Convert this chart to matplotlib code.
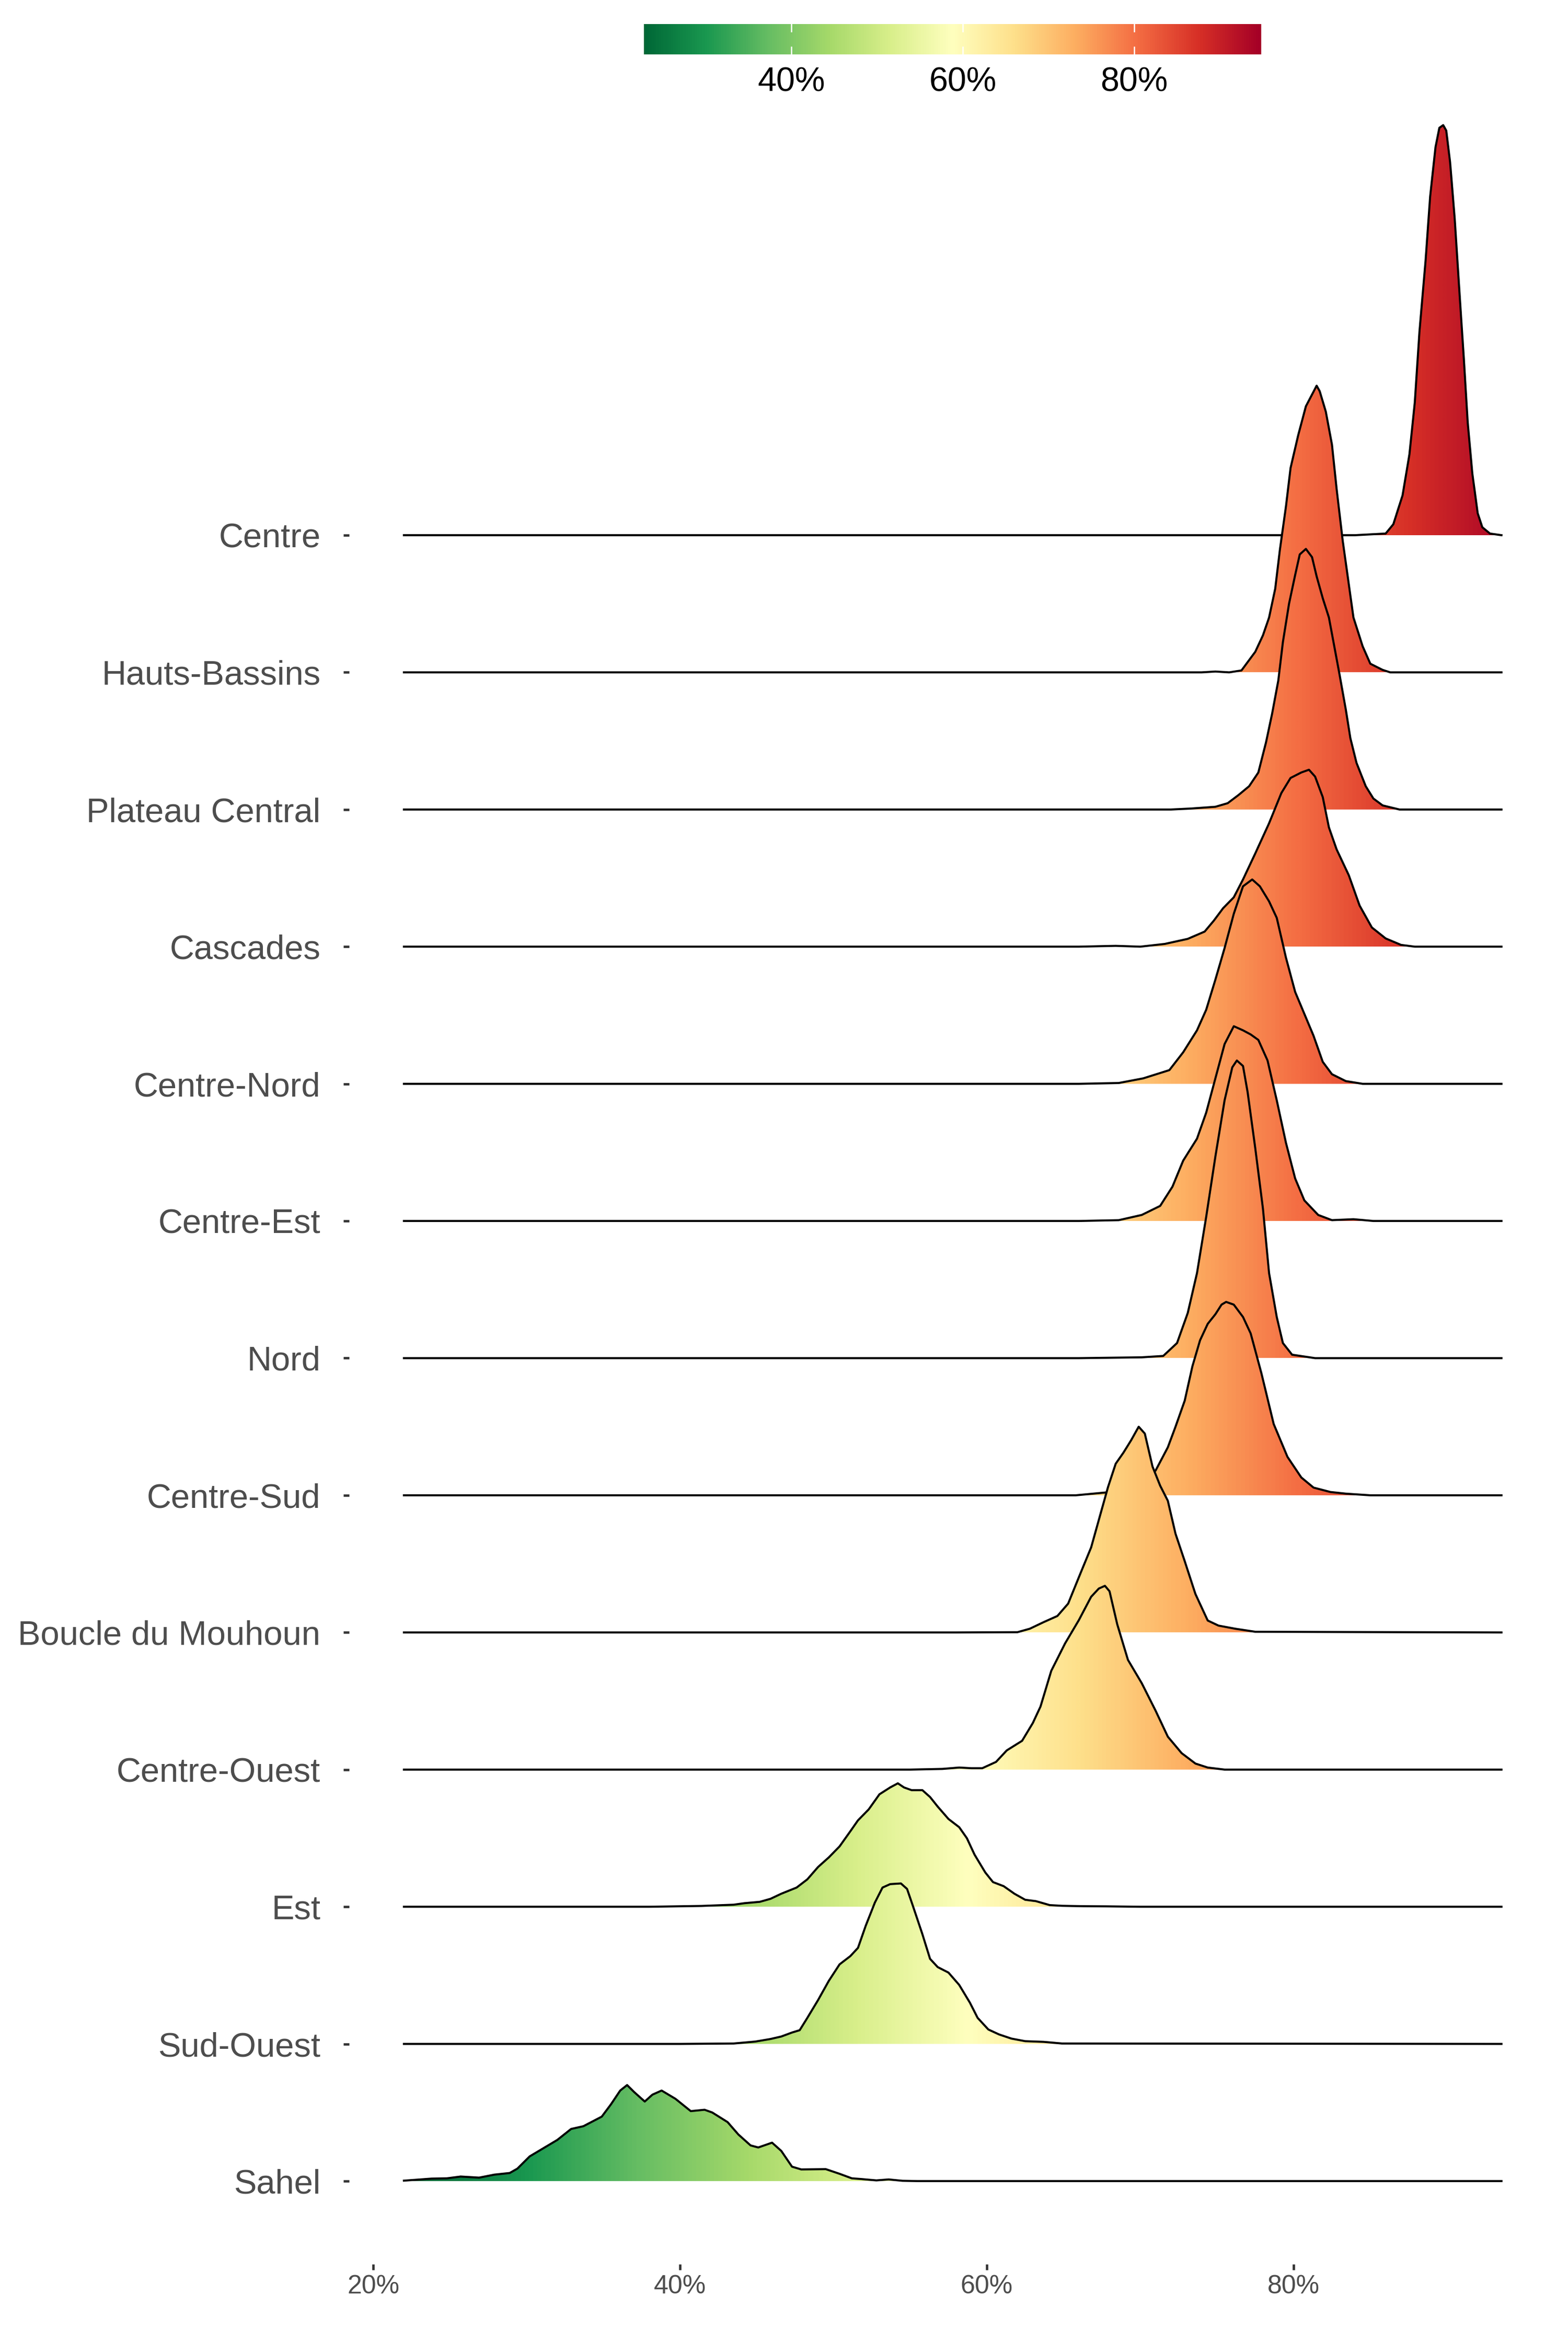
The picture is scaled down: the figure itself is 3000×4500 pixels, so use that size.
import numpy as np
import matplotlib
matplotlib.use("Agg")
import matplotlib.pyplot as plt
from matplotlib.patches import Polygon
from matplotlib.colors import Normalize

plt.rcParams['font.family'] = ['Liberation Sans', 'DejaVu Sans']

# regions, top to bottom
regions = ["Centre", "Hauts-Bassins", "Plateau Central", "Cascades", "Centre-Nord",
           "Centre-Est", "Nord", "Centre-Sud", "Boucle du Mouhoun", "Centre-Ouest",
           "Est", "Sud-Ouest", "Sahel"]

# density curves: x in %, height in row units
centre_x = [22.0, 84.0, 86.0, 86.5, 87.1, 87.55, 87.9, 88.2, 88.6, 88.9, 89.25, 89.5, 89.75,
            89.95, 90.2, 90.5, 90.8, 91.1, 91.35, 91.65, 92.0, 92.3, 92.8, 93.55]
centre_h = [0, 0, 0.012, 0.08, 0.29, 0.59, 0.97, 1.48, 2.0, 2.47, 2.83, 2.97, 2.99,
            2.95, 2.72, 2.31, 1.79, 1.28, 0.82, 0.45, 0.16, 0.058, 0.012, 0]

hauts_x = [22.0, 74.0, 74.9, 75.8, 76.6, 77.5, 78.0, 78.4, 78.8, 79.1, 79.5, 79.8, 80.3,
           80.8, 81.5, 81.7, 82.1, 82.5, 82.8, 83.2, 83.6, 83.9, 84.5, 85.0, 85.8, 86.3, 93.55]
hauts_h = [0, 0, 0.006, 0.0, 0.014, 0.15, 0.27, 0.40, 0.61, 0.89, 1.21, 1.49, 1.73,
           1.94, 2.09, 2.05, 1.90, 1.66, 1.34, 0.96, 0.64, 0.40, 0.19, 0.063, 0.018, 0, 0]

plateau_x = [22.0, 72.0, 73.3, 74.9, 75.7, 76.4, 77.1, 77.7, 78.2, 78.6, 79.0, 79.3, 79.7,
             80.1, 80.4, 80.8, 81.2, 81.5, 81.9, 82.3, 82.6, 83.0, 83.4, 83.7, 84.1, 84.7,
             85.2, 85.8, 86.9, 93.55]
plateau_h = [0, 0, 0.007, 0.02, 0.046, 0.105, 0.17, 0.27, 0.49, 0.70, 0.94, 1.22, 1.50,
             1.71, 1.86, 1.90, 1.84, 1.70, 1.54, 1.40, 1.22, 0.98, 0.73, 0.52, 0.34, 0.17,
             0.08, 0.03, 0, 0]

cascades_x = [22.0, 66.0, 68.4, 70.0, 71.6, 73.1, 74.2, 74.8, 75.4, 76.1, 76.7, 77.5, 78.4,
              79.2, 79.8, 80.5, 81.0, 81.4, 81.9, 82.3, 82.8, 83.6, 84.3, 85.1, 86.0, 87.0,
              87.9, 93.55]
cascades_h = [0, 0, 0.006, 0.0, 0.02, 0.057, 0.11, 0.19, 0.28, 0.36, 0.49, 0.68, 0.90,
              1.12, 1.23, 1.27, 1.29, 1.24, 1.09, 0.87, 0.71, 0.52, 0.30, 0.14, 0.06, 0.013,
              0, 0]

cnord_x = [22.0, 66.0, 68.6, 70.2, 71.9, 72.8, 73.7, 74.3, 74.9, 75.5, 76.1, 76.7, 77.3,
           77.8, 78.4, 78.9, 79.5, 80.1, 80.7, 81.3, 81.9, 82.5, 83.4, 84.5, 93.55]
cnord_h = [0, 0, 0.006, 0.04, 0.10, 0.23, 0.39, 0.54, 0.76, 0.99, 1.24, 1.44, 1.49,
           1.44, 1.33, 1.21, 0.92, 0.67, 0.51, 0.35, 0.16, 0.07, 0.02, 0, 0]

cest_x = [22.0, 66.0, 68.6, 70.1, 71.3, 72.1, 72.8, 73.7, 74.3, 74.9, 75.5, 76.1, 76.7,
          77.2, 77.7, 78.3, 78.9, 79.5, 80.1, 80.7, 81.6, 82.5, 83.9, 85.2, 93.55]
cest_h = [0, 0, 0.006, 0.044, 0.11, 0.25, 0.44, 0.60, 0.79, 1.04, 1.29, 1.42, 1.39,
          1.36, 1.32, 1.17, 0.88, 0.57, 0.31, 0.15, 0.044, 0.006, 0.013, 0, 0]

nord_x = [22.0, 66.0, 70.1, 71.5, 72.4, 73.1, 73.7, 74.3, 74.9, 75.5, 76.0, 76.3, 76.7,
          77.0, 77.5, 78.0, 78.4, 78.9, 79.3, 79.9, 81.4, 93.55]
nord_h = [0, 0, 0.006, 0.016, 0.11, 0.33, 0.62, 1.03, 1.47, 1.88, 2.12, 2.17, 2.13,
          1.94, 1.53, 1.09, 0.62, 0.30, 0.11, 0.025, 0, 0]

csud_x = [22.0, 62.0, 65.8, 67.7, 69.2, 70.1, 71.0, 71.8, 72.3, 72.9, 73.4, 73.9, 74.4,
          74.9, 75.3, 75.6, 76.1, 76.7, 77.2, 77.9, 78.7, 79.6, 80.5, 81.3, 82.4, 83.4,
          85.0, 93.55]
csud_h = [0, 0, 0.0, 0.02, 0.036, 0.10, 0.18, 0.35, 0.50, 0.69, 0.94, 1.13, 1.25,
          1.32, 1.39, 1.41, 1.39, 1.30, 1.18, 0.89, 0.52, 0.28, 0.13, 0.056, 0.024, 0.012,
          0, 0]

boucle_x = [22.0, 58.0, 62.0, 62.8, 63.7, 64.6, 65.3, 66.1, 66.8, 67.3, 67.9, 68.4, 68.9,
            69.4, 69.9, 70.3, 70.8, 71.3, 71.8, 72.3, 72.9, 73.6, 74.4, 75.1, 76.2, 77.5,
            93.55]
boucle_h = [0, 0, 0.002, 0.027, 0.075, 0.12, 0.21, 0.43, 0.62, 0.82, 1.06, 1.23, 1.31,
            1.40, 1.50, 1.45, 1.21, 1.07, 0.96, 0.72, 0.52, 0.28, 0.087, 0.05, 0.027, 0.005,
            0]

couest_x = [22.0, 55.0, 57.1, 58.2, 59.0, 59.7, 60.6, 61.3, 62.3, 63.0, 63.5, 64.2, 65.1,
            66.0, 66.8, 67.3, 67.7, 68.0, 68.5, 69.2, 70.1, 71.0, 71.8, 72.7, 73.6, 74.4,
            75.5, 93.55]
couest_h = [0, 0, 0.005, 0.015, 0.010, 0.010, 0.056, 0.14, 0.21, 0.34, 0.46, 0.72, 0.92,
            1.09, 1.26, 1.32, 1.34, 1.30, 1.06, 0.80, 0.63, 0.43, 0.24, 0.12, 0.044, 0.015,
            0, 0]

est_x = [22.0, 38.0, 41.4, 43.5, 44.2, 45.2, 45.9, 46.6, 47.6, 48.3, 49.0, 49.7, 50.4,
         51.1, 51.6, 52.3, 53.0, 53.7, 54.2, 54.6, 55.1, 55.8, 56.3, 56.8, 57.5, 58.2,
         58.7, 59.2, 59.9, 60.4, 61.1, 61.8, 62.5, 63.2, 64.1, 64.9, 66.3, 67.8, 70.0, 93.55]
est_h = [0, 0, 0.006, 0.015, 0.026, 0.036, 0.058, 0.095, 0.14, 0.20, 0.29, 0.36, 0.44,
         0.55, 0.63, 0.71, 0.82, 0.87, 0.90, 0.87, 0.85, 0.85, 0.80, 0.73, 0.64, 0.58,
         0.50, 0.38, 0.25, 0.18, 0.15, 0.095, 0.051, 0.041, 0.012, 0.007, 0.004, 0.003, 0, 0]

souest_x = [22.0, 40.0, 43.5, 44.9, 45.9, 46.6, 47.3, 47.8, 48.3, 49.0, 49.7, 50.4, 51.1,
            51.6, 52.1, 52.7, 53.2, 53.7, 54.4, 54.8, 55.2, 55.8, 56.3, 56.8, 57.5, 58.2,
            58.9, 59.4, 60.1, 60.8, 61.6, 62.5, 63.7, 64.9, 93.55]
souest_h = [0, 0, 0.003, 0.017, 0.036, 0.054, 0.083, 0.10, 0.19, 0.32, 0.46, 0.58, 0.64,
            0.70, 0.86, 1.03, 1.14, 1.165, 1.17, 1.13, 1.00, 0.80, 0.62, 0.56, 0.52, 0.43,
            0.30, 0.19, 0.105, 0.069, 0.039, 0.020, 0.015, 0.003, 0]

sahel_x = [22.0, 23.8, 24.8, 25.7, 26.9, 27.9, 28.9, 29.4, 30.2, 30.8, 32.0, 32.9, 33.7,
           34.9, 35.5, 36.1, 36.55, 37.0, 37.7, 38.2, 38.8, 39.7, 40.7, 41.6, 42.1, 43.1,
           43.8, 44.6, 45.1, 46.0, 46.6, 47.3, 47.9, 49.5, 50.4, 51.2, 51.8, 52.8, 53.6,
           54.5, 55.5, 93.55]
sahel_h = [0.003, 0.018, 0.02, 0.033, 0.025, 0.047, 0.059, 0.091, 0.18, 0.22, 0.30, 0.38, 0.40,
           0.47, 0.56, 0.66, 0.70, 0.65, 0.58, 0.63, 0.66, 0.60, 0.51, 0.52, 0.50, 0.43,
           0.34, 0.26, 0.245, 0.28, 0.22, 0.105, 0.085, 0.087, 0.053, 0.02, 0.015, 0.005, 0.012,
           0.002, 0, 0]

curves = [(centre_x, centre_h), (hauts_x, hauts_h), (plateau_x, plateau_h),
          (cascades_x, cascades_h), (cnord_x, cnord_h), (cest_x, cest_h),
          (nord_x, nord_h), (csud_x, csud_h), (boucle_x, boucle_h),
          (couest_x, couest_h), (est_x, est_h), (souest_x, souest_h),
          (sahel_x, sahel_h)]

x_ticks = [20, 40, 60, 80]
bar_ticks = [40, 60, 80]
color_lo, color_hi = 22.78, 94.83
x_lo, x_hi = 22.0, 93.55

cmap = plt.get_cmap('RdYlGn_r')
norm = Normalize(vmin=color_lo, vmax=color_hi)

W, H = 3000.0, 4500.0
fig = plt.figure(figsize=(10, 15), dpi=300)
ax = fig.add_axes([668 / W, 1 - 4332 / H, 2310.1 / W, 4132 / H])

n = len(regions)
grad = np.linspace(x_lo, x_hi, 800)[None, :]
for i, (xs, hs) in enumerate(curves):
    row = n - 1 - i
    xs = np.asarray(xs, dtype=float)
    ys = row + np.asarray(hs, dtype=float)
    z = 10 + 2 * i
    verts = np.vstack([np.column_stack([xs, ys]), [[xs[-1], row], [xs[0], row]]])
    patch = Polygon(verts, closed=True, facecolor='none', edgecolor='none')
    ax.add_patch(patch)
    im = ax.imshow(grad, extent=[x_lo, x_hi, row, ys.max() + 0.02], cmap=cmap, norm=norm,
                   aspect='auto', interpolation='bilinear', zorder=z)
    im.set_clip_path(patch)
    ax.plot(xs, ys, color='black', lw=0.95, zorder=z + 1, solid_joinstyle='round')

ax.set_xlim(18.43, 97.14)
ax.set_ylim(-0.606, 15.14)
ax.set_yticks(range(n))
ax.set_yticklabels(regions[::-1])
ax.set_xticks(x_ticks)
ax.set_xticklabels([f"{t}%" for t in x_ticks])
ax.tick_params(axis='y', length=2.64, width=1.1, color='#333333', pad=10.5,
               labelsize=15.6, labelcolor='#4D4D4D')
ax.tick_params(axis='x', length=2.64, width=1.1, color='#333333', pad=2.2,
               labelsize=12, labelcolor='#4D4D4D')
for s in ax.spines.values():
    s.set_visible(False)

# colour bar on top
cax = fig.add_axes([1232.3 / W, 1 - 104.3 / H, 1180.1 / W, 58.3 / H])
cax.imshow(np.linspace(color_lo, color_hi, 800)[None, :], extent=[color_lo, color_hi, 0, 1],
           cmap=cmap, norm=norm, aspect='auto', interpolation='bilinear')
for t in bar_ticks:
    cax.plot([t, t], [0, 0.24], color='white', lw=0.6)
    cax.plot([t, t], [0.76, 1], color='white', lw=0.6)
cax.set_xlim(color_lo, color_hi)
cax.set_ylim(0, 1)
cax.set_yticks([])
cax.set_xticks(bar_ticks)
cax.set_xticklabels([f"{t}%" for t in bar_ticks])
cax.tick_params(axis='x', length=0, pad=5.5, labelsize=15.5, labelcolor='black')
for s in cax.spines.values():
    s.set_visible(False)

fig.savefig('out.png', dpi=300, facecolor='white')
